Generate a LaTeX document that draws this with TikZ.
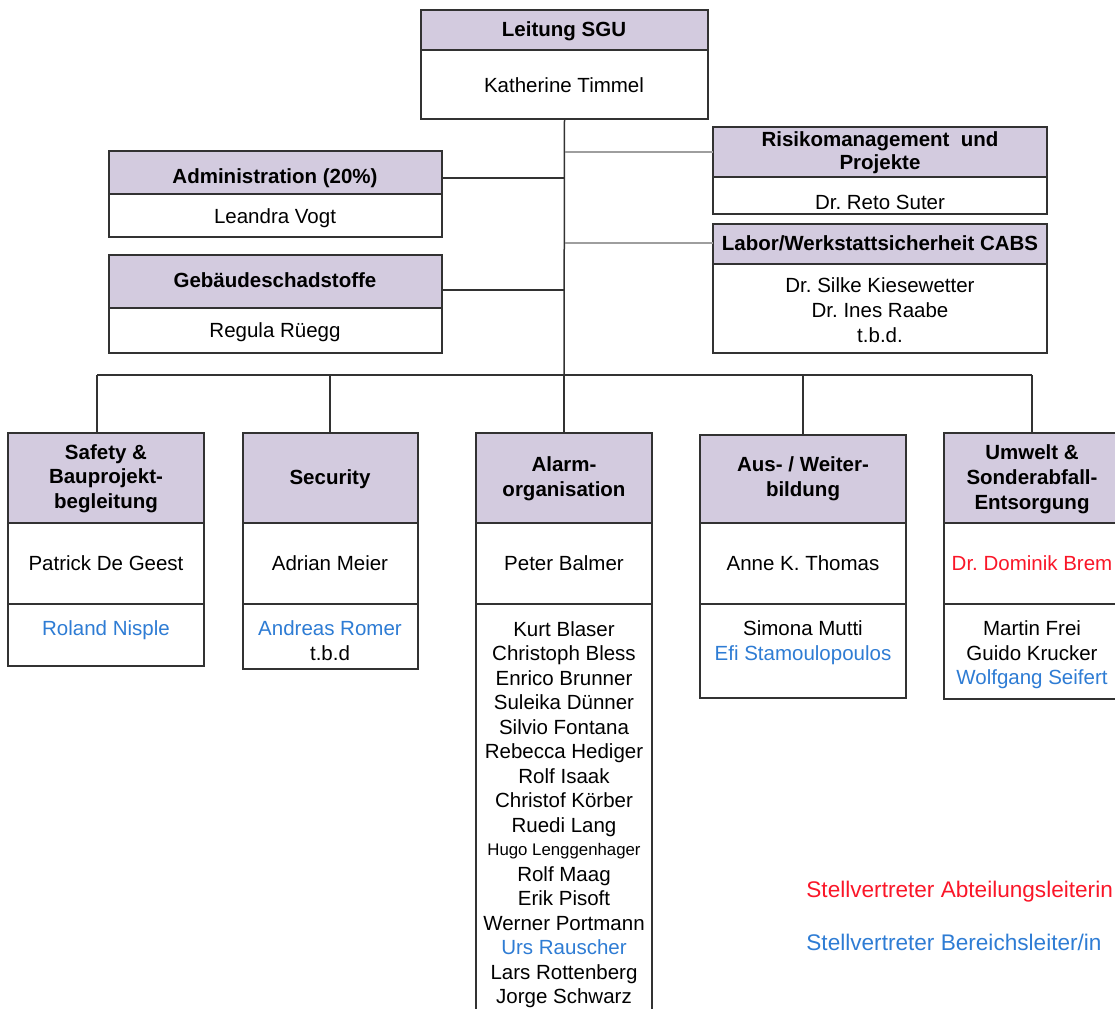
\documentclass[tikz,border=0pt]{standalone}
\usepackage{fontspec}
\setmainfont{Liberation Sans}
\frenchspacing
\definecolor{hdr}{RGB}{211,203,223}
\definecolor{dep}{RGB}{46,124,212}
\definecolor{abt}{RGB}{250,22,40}
\definecolor{frame}{RGB}{50,50,50}
\tikzset{
 cellbox/.style={draw=frame, line width=0.75pt, inner sep=0pt, outer sep=0pt},
 headcell/.style={cellbox, fill=hdr},
 bodycell/.style={cellbox, fill=white},
 lbl/.style={inner sep=0pt, font=\fontsize{10.25}{12.35}\selectfont, text height=7.4pt, text depth=0pt},
 hlbl/.style={lbl, font=\fontsize{10.25}{12.35}\selectfont\bfseries},
 slbl/.style={inner sep=0pt, font=\fontsize{8.4}{10}\selectfont, text height=6.05pt, text depth=0pt},
 blbl/.style={lbl, text=dep},
 rlbl/.style={lbl, text=abt},
 leglbl/.style={inner sep=0pt, font=\fontsize{11.3}{13}\selectfont, text height=8.1pt, text depth=0pt, anchor=west},
 link/.style={line width=0.75pt, draw=frame},
 glink/.style={line width=1pt, draw=black!38},
}
\newcommand\cell[6]{\node[#6, minimum width={(#4-#2)*0.5pt}, minimum height={(#5-#3)*0.5pt}] (#1) at ({(#2+#4)/2},{(#3+#5)/2}) {};}
\newcommand\lab[5]{\node[#4] (#1) at (#2,#3) {#5};}
\begin{document}
\begin{tikzpicture}[x=0.5pt,y=-0.5pt]
\useasboundingbox (0,0) rectangle (1115,1008);
% ---- boxes
\cell{leadh}{421}{10}{708}{50}{headcell}
\cell{leadb}{421}{50}{708}{119}{bodycell}
\cell{admh}{109}{151}{442}{194}{headcell}
\cell{admb}{109}{194}{442}{237}{bodycell}
\cell{gebh}{109}{255}{442}{308}{headcell}
\cell{gebb}{109}{308}{442}{353}{bodycell}
\cell{riskh}{713}{127}{1047}{177}{headcell}
\cell{riskb}{713}{177}{1047}{214}{bodycell}
\cell{labh}{713}{224}{1047}{264}{headcell}
\cell{labb}{713}{264}{1047}{353}{bodycell}
\cell{safh}{8}{433}{204}{523}{headcell}
\cell{safb}{8}{523}{204}{604}{bodycell}
\cell{safc}{8}{604}{204}{666}{bodycell}
\cell{sech}{243}{433}{418}{523}{headcell}
\cell{secb}{243}{523}{418}{604}{bodycell}
\cell{secc}{243}{604}{418}{669}{bodycell}
\cell{alah}{476}{433}{652}{523}{headcell}
\cell{alab}{476}{523}{652}{604}{bodycell}
\cell{alac}{476}{604}{652}{1020}{bodycell}
\cell{ausah}{700}{435}{906}{523}{headcell}
\cell{ausb}{700}{523}{906}{604}{bodycell}
\cell{ausc}{700}{604}{906}{698}{bodycell}
\cell{umh}{944}{433}{1122}{523}{headcell}
\cell{umb}{944}{523}{1122}{604}{bodycell}
\cell{umc}{944}{604}{1122}{699}{bodycell}
% ---- connectors
\coordinate (busL) at (97,375);
\coordinate (busS) at (330,375);
\coordinate (busM) at (564,375);
\coordinate (busA) at (803,375);
\coordinate (busR) at (1032,375);
\draw[link] (leadb.south) -- (busM);
\draw[link] (busL) -- (busR);
\draw[link] (busL) -- (busL |- safh.north);
\draw[link] (busS) -- (busS |- sech.north);
\draw[link] (busM) -- (alah.north);
\draw[link] (busA) -- (busA |- ausah.north);
\draw[link] (busR) -- (busR |- umh.north);
\draw[link] ([yshift=-2.75pt]admh.east) -- ([yshift=-2.75pt]admh.east -| leadb.south);
\draw[link] ([yshift=-4.25pt]gebh.east) -- ([yshift=-4.25pt]gebh.east -| leadb.south);
\draw[glink] (riskh.west) -- (riskh.west -| leadb.south);
\draw[glink] ([yshift=0.5pt]labh.west) -- ([yshift=0.5pt]labh.west -| leadb.south);
% ---- texts
\lab{t1}{564}{29}{hlbl}{Leitung SGU}
\lab{t2}{564}{85}{lbl}{Katherine Timmel}
\lab{t3}{275}{176}{hlbl}{Administration (20\%)}
\lab{t4}{275}{216}{lbl}{Leandra Vogt}
\lab{t5}{275}{280}{hlbl}{Gebäudeschadstoffe}
\lab{t6}{275}{330}{lbl}{Regula Rüegg}
\lab{t7}{880}{139}{hlbl}{Risikomanagement\ \ und}
\lab{t8}{880}{162}{hlbl}{Projekte}
\lab{t9}{880}{202}{lbl}{Dr. Reto Suter}
\lab{t10}{880}{243}{hlbl}{Labor/Werkstattsicherheit CABS}
\lab{t11}{880}{285}{lbl}{Dr. Silke Kiesewetter}
\lab{t12}{880}{310}{lbl}{Dr. Ines Raabe}
\lab{t13}{880}{335}{lbl}{t.b.d.}
\lab{t14}{106}{452}{hlbl}{Safety \&}
\lab{t15}{106}{476}{hlbl}{Bauprojekt-}
\lab{t16}{106}{501}{hlbl}{begleitung}
\lab{t17}{106}{563}{lbl}{Patrick De Geest}
\lab{t18}{106}{628}{blbl}{Roland Nisple}
\lab{t19}{330}{477}{hlbl}{Security}
\lab{t20}{330}{563}{lbl}{Adrian Meier}
\lab{t21}{330}{628}{blbl}{Andreas Romer}
\lab{t22}{330}{653}{lbl}{t.b.d}
\lab{t23}{564}{464}{hlbl}{Alarm-}
\lab{t24}{564}{489}{hlbl}{organisation}
\lab{t25}{564}{563}{lbl}{Peter Balmer}
\foreach \nm/\st [count=\i from 0] in {Kurt Blaser/lbl, Christoph Bless/lbl, Enrico Brunner/lbl, Suleika Dünner/lbl, Silvio Fontana/lbl, Rebecca Hediger/lbl, Rolf Isaak/lbl, Christof Körber/lbl, Ruedi Lang/lbl, Hugo Lenggenhager/slbl, Rolf Maag/lbl, Erik Pisoft/lbl, Werner Portmann/lbl, Urs Rauscher/blbl, Lars Rottenberg/lbl, Jorge Schwarz/lbl}
  \node[\st] (al\i) at (564,{629+24.5*\i}) {\nm};
\lab{t26}{803}{464}{hlbl}{Aus- / Weiter-}
\lab{t27}{803}{489}{hlbl}{bildung}
\lab{t28}{803}{563}{lbl}{Anne K. Thomas}
\lab{t29}{803}{628}{lbl}{Simona Mutti}
\lab{t30}{803}{653}{blbl}{Efi Stamoulopoulos}
\lab{t31}{1032}{452}{hlbl}{Umwelt \&}
\lab{t32}{1032}{477}{hlbl}{Sonderabfall-}
\lab{t33}{1032}{502}{hlbl}{Entsorgung}
\lab{t34}{1032}{563}{rlbl}{Dr. Dominik Brem}
\lab{t35}{1032}{628}{lbl}{Martin Frei}
\lab{t36}{1032}{653}{lbl}{Guido Krucker}
\lab{t37}{1032}{677}{blbl}{Wolfgang Seifert}
\node[leglbl, text=abt] (leg1) at (806,889) {Stellvertreter Abteilungsleiterin};
\node[leglbl, text=dep] (leg2) at (806,942) {Stellvertreter Bereichsleiter/in};
\end{tikzpicture}
\end{document}
